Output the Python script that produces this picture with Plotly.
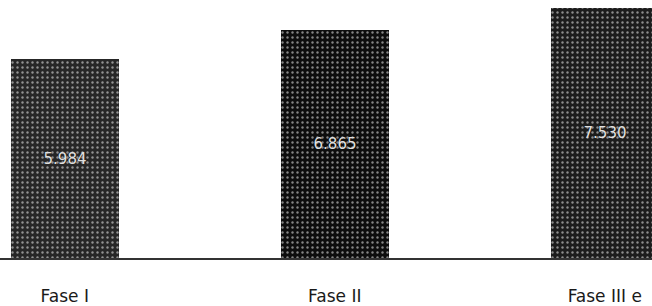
import plotly.graph_objects as go

categories = ["Fase I", "Fase II", "Fase III e"]
values = [5984, 6865, 7530]
bar_colors = ["#262626", "#0d0d0d", "#1c1c1c"]

fig = go.Figure()
fig.add_trace(go.Bar(
    x=[0, 1, 2],
    y=values,
    width=0.4,
    marker=dict(
        color=bar_colors,
        line=dict(width=0),
        pattern=dict(shape=".", fgcolor="#a8a8a8", bgcolor="#0a0a0a",
                     size=5, solidity=0.18, fillmode="overlay"),
    ),
    texttemplate="%{y:,d}",
    textposition="inside",
    insidetextanchor="middle",
    textfont=dict(family="DejaVu Sans, Arial", size=15, color="#e0e0e0"),
    showlegend=False,
))

fig.update_layout(
    width=652, height=306,
    margin=dict(l=0, r=0, t=0, b=44),
    paper_bgcolor="white", plot_bgcolor="white",
    separators=",.",
    bargap=0,
    xaxis=dict(
        range=[-0.24, 2.175],
        tickmode="array", tickvals=[0, 1, 2], ticktext=categories,
        showgrid=False, zeroline=False,
        showline=True, linecolor="#333333", linewidth=1.5,
        ticks="", ticklabelstandoff=22,
        tickfont=dict(family="DejaVu Sans, Arial", size=17, color="#1a1a1a"),
    ),
    yaxis=dict(range=[0, 7761], visible=False),
)

fig.write_html("out.html", config={"displayModeBar": False},
               post_script="document.body.style.margin='0';")
